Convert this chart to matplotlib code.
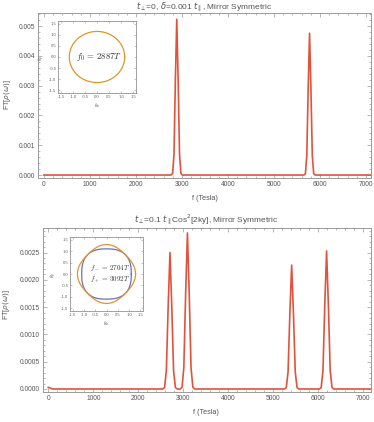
import numpy as np
import matplotlib
matplotlib.use("Agg")
import matplotlib.pyplot as plt
from matplotlib.ticker import MultipleLocator, FormatStrFormatter

plt.rcParams['font.family'] = ['Liberation Sans', 'DejaVu Sans']

# ---------------- data ----------------
top_title = r'$t_{\perp}$=0, $\delta$=0.001 $t_{\parallel}$, Mirror Symmetric'
bot_title = r'$t_{\perp}$=0.1 $t_{\parallel}$Cos$^2$[2ky], Mirror Symmetric'

top_f = [0, 2767, 2797, 2827, 2857, 2887, 2917, 2947, 2977, 3007,
         5654, 5684, 5714, 5744, 5774, 5804, 5834, 5864, 5894, 7110]
top_amp = [0, 0, 0.00006, 0.0007, 0.0032, 0.00523, 0.0032, 0.0007, 0.00006, 0,
           0, 0.00005, 0.00064, 0.0029, 0.00476, 0.0029, 0.00064, 0.00005, 0, 0]

bot_f = [0, 40, 90, 2544,
         2584, 2624, 2664, 2704, 2744, 2784, 2824, 2864, 2932,
         2972, 3012, 3052, 3092, 3132, 3172, 3212, 3252, 5248,
         5288, 5328, 5368, 5408, 5448, 5488, 5528, 5568, 6024,
         6064, 6104, 6144, 6184, 6224, 6264, 6304, 6344,
         7180]
bot_amp = [0.00003, 0.00002, 0.0, 0.0,
           0.000028, 0.00034, 0.00152, 0.0025, 0.00152, 0.00034, 0.000028, 0.0, 0.0,
           0.000032, 0.00039, 0.00174, 0.00286, 0.00174, 0.00039, 0.000032, 0.0, 0.0,
           0.000025, 0.00031, 0.00138, 0.00227, 0.00138, 0.00031, 0.000025, 0.0, 0.0,
           0.000028, 0.00034, 0.00154, 0.00253, 0.00154, 0.00034, 0.000028, 0.0,
           0.0]

x_ticks = [0, 1000, 2000, 3000, 4000, 5000, 6000, 7000]
top_yticks = [0.000, 0.001, 0.002, 0.003, 0.004, 0.005]
bot_yticks = [0.0000, 0.0005, 0.0010, 0.0015, 0.0020, 0.0025]
inset_ticks = [-1.5, -1.0, -0.5, 0.0, 0.5, 1.0, 1.5]

# Fermi-surface radii at angles 0..45 deg (5 deg step), mirror symmetric
fs_angles_deg = [0, 5, 10, 15, 20, 25, 30, 35, 40, 45]
r_f0 = [1.15, 1.15, 1.15, 1.15, 1.15, 1.15, 1.15, 1.15, 1.15, 1.15]
r_fminus = [1.10, 1.103, 1.112, 1.125, 1.140, 1.155, 1.169, 1.181, 1.189, 1.192]
r_fplus = [1.29, 1.287, 1.278, 1.265, 1.249, 1.231, 1.215, 1.202, 1.193, 1.19]

label_f0 = r'$f_0\,=\,2887T$'
label_fm = r'$f_-\,=\,2704T$'
label_fp = r'$f_+\,=\,3092T$'

LINE = '#E4513A'
ORANGE = '#E0952A'
BLUE = '#6E6EC2'
FRAME = '#9a9a9a'
TXT = '#555555'

W, H = 374, 422
fig = plt.figure(figsize=(W / 100, H / 100), dpi=100)


def px_axes(l, t, r, b):
    return fig.add_axes([l / W, 1 - b / H, (r - l) / W, (b - t) / H])


def style_main(ax, ymaj, ymin, fmt):
    for s in ax.spines.values():
        s.set_color(FRAME)
        s.set_linewidth(0.7)
    ax.xaxis.set_major_locator(MultipleLocator(1000))
    ax.xaxis.set_minor_locator(MultipleLocator(200))
    ax.yaxis.set_major_locator(MultipleLocator(ymaj))
    ax.yaxis.set_minor_locator(MultipleLocator(ymin))
    ax.yaxis.set_major_formatter(FormatStrFormatter(fmt))
    ax.tick_params(which='both', direction='in', top=True, right=True,
                   color=FRAME, width=0.5, labelsize=4.8, labelcolor=TXT, pad=2)
    ax.tick_params(which='major', length=3)
    ax.tick_params(which='minor', length=1.6)


def fs_polygon(radii):
    quad = list(radii) + list(radii[-2::-1])  # 0..90 deg
    rr = []
    for q in range(4):
        rr += quad[:-1]
    rr.append(rr[0])
    th = np.deg2rad(np.arange(len(rr)) * 5.0)
    rr = np.array(rr)
    return rr * np.cos(th), rr * np.sin(th)


def style_inset(ax):
    ax.set_xlim(-1.62, 1.62)
    ax.set_ylim(-1.62, 1.62)
    for s in ax.spines.values():
        s.set_color('#888888')
        s.set_linestyle((0, (1, 1.2)))
        s.set_linewidth(0.6)
    ax.set_xticks(inset_ticks)
    ax.set_yticks(inset_ticks)
    ax.set_xticklabels([f'{v:.1f}' for v in inset_ticks])
    ax.set_yticklabels([f'{v:.1f}' for v in inset_ticks])
    ax.tick_params(direction='in', length=1.2, width=0.4, color='#999999',
                   labelsize=3.1, labelcolor='#666666', pad=1.2, top=True, right=True)
    ax.set_xlabel(r'$k_x$', fontsize=3.6, color='#666666', labelpad=1.5)
    ax.set_ylabel(r'$k_y$', fontsize=3.6, color='#666666', labelpad=1.5)


# ---------------- top panel ----------------
ax1 = px_axes(38, 13, 371, 178)
ax1.plot(top_f, top_amp, color=LINE, lw=1.2)
ax1.set_xlim(-130, 7110)
ax1.set_ylim(-0.0001, 0.00544)
style_main(ax1, 0.001, 0.0002, '%.3f')
ax1.set_xticks(x_ticks)
ax1.set_yticks(top_yticks)

fig.text(204.5 / W, 1 - 7 / H, top_title, ha='center', va='center',
         fontsize=6, color=TXT)
fig.text(204.5 / W, 1 - 199 / H, 'f (Tesla)', ha='center', va='center',
         fontsize=5.2, color=TXT)
fig.text(8 / W, 1 - 95 / H, r'FT[$\rho(\omega)$]', ha='center', va='center',
         rotation=90, fontsize=5.2, color=TXT)

ins1 = px_axes(58, 21, 136, 93)
x0, y0 = fs_polygon(r_f0)
ins1.plot(x0, y0, color=ORANGE, lw=0.9)
style_inset(ins1)
ins1.text(0.1, 0.0, label_f0, ha='center', va='center', fontsize=6.3,
          math_fontfamily='cm', color='#333333')

# ---------------- bottom panel ----------------
ax2 = px_axes(42.7, 228, 371, 392)
ax2.plot(bot_f, bot_amp, color=LINE, lw=1.2)
ax2.set_xlim(-124, 7171)
ax2.set_ylim(-0.000055, 0.00295)
style_main(ax2, 0.0005, 0.0001, '%.4f')
ax2.set_xticks(x_ticks)
ax2.set_yticks(bot_yticks)

fig.text(206 / W, 1 - 220 / H, bot_title, ha='center', va='center',
         fontsize=6, color=TXT)
fig.text(206 / W, 1 - 412 / H, 'f (Tesla)', ha='center', va='center',
         fontsize=5.2, color=TXT)
fig.text(7 / W, 1 - 305 / H, r'FT[$\rho(\omega)$]', ha='center', va='center',
         rotation=90, fontsize=5.2, color=TXT)

ins2 = px_axes(70, 237, 143, 311)
xp, yp = fs_polygon(r_fplus)
xm, ym = fs_polygon(r_fminus)
ins2.plot(xm, ym, color=BLUE, lw=0.9)
ins2.plot(xp, yp, color=ORANGE, lw=0.9)
style_inset(ins2)
ins2.text(-0.72, 0.27, label_fm, ha='left', va='center', fontsize=5,
          math_fontfamily='cm', color='#333333')
ins2.text(-0.72, -0.22, label_fp, ha='left', va='center', fontsize=5,
          math_fontfamily='cm', color='#333333')

fig.savefig('out.png', dpi=100)
